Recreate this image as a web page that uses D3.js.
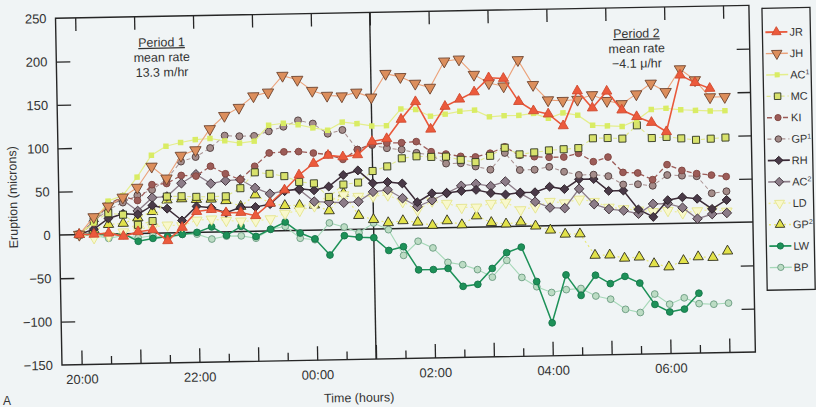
<!DOCTYPE html>
<html>
<head>
<meta charset="utf-8">
<script src="https://cdn.jsdelivr.net/npm/d3@7"></script>
<style>
  body { margin: 0; background: #f0f4f5; }
  svg { display: block; font-family: "Liberation Sans", Arial, sans-serif; }
</style>
</head>
<body>
<svg id="chart"></svg>
<script>
const width = 816,
  height = 407

// sample times, every 15 minutes
const times = ["20:00","20:15","20:30","20:45","21:00","21:15","21:30","21:45","22:00","22:15","22:30","22:45",
  "23:00","23:15","23:30","23:45","00:00","00:15","00:30","00:45","01:00","01:15","01:30","01:45",
  "02:00","02:15","02:30","02:45","03:00","03:15","03:30","03:45","04:00","04:15","04:30","04:45",
  "05:00","05:15","05:30","05:45","06:00","06:15","06:30","06:45","07:00"]

// eruption, microns
const jr  = [0,0,1,-3,2,4,-9,6,24,26, 22,22,18,32,47,64,77,86,84,86, 101,104,126,146,114,140,148,156,172,171, 144,133,129,115,155,135,154,132,124,117, 106,171,162,155,null]
const jh  = [0,20,32,42,53,77,63,89,95,119, 134,143,156,160,179,174,161,155,154,158, 152,179,175,167,162,192,194,176,166,162, 192,163,145,144,145,150,143,139,150,162, 152,178,165,145,145]
const ac1 = [0,13,38,44,65,90,100,104,107,108, 105,102,104,122,124,122,118,115,124,122, 119,119,138,137,129,131,134,135,127,128, 128,130,124,130,127,115,114,113,120,132, 133,131,130,129,129]
const mc  = [0,15,24,22,10,14,42,42,41,41, 41,50,68,66,63,56,54,38,52,54, 67,72,81,83,82,82,78,75,82,91, 83,85,87,88,89,100,100,99,114,99, 100,98,96,97,98]
const ki  = [0,13,34,43,38,56,57,66,65,76, 67,60,75,90,91,91,89,87,81,92, 98,99,99,100,88,85,82,81,85,92, 82,80,79,79,83,73,78,60,59,51, 68,61,57,55,53]
const gp1 = [0,15,28,36,44,50,62,82,87,97, 111,110,110,115,120,127,123,111,115,92, 97,93,91,87,84,74,74,70,66,85, 65,65,68,62,58,58,56,46,46,44, 56,55,54,34,36]
const rh  = [0,6,18,23,22,32,28,14,30,28, 22,28,28,31,46,48,46,50,63,68, 53,54,52,30,40,40,42,43,39,37, 39,39,45,42,53,53,39,39,17,8, 27,30,28,16,26]
const ac2 = [0,15,34,39,26,41,42,57,67,56, 59,60,50,43,46,47,33,32,31,32, 43,45,35,25,32,40,48,50,47,52, 38,28,21,20,42,24,18,16,12,23, 23,18,5,10,11]
const ld  = [0,-4,-2,2,5,7,9,8,14,15, 13,12,12,14,20,23,28,33,40,38, 38,39,31,21,31,28,23,23,27,28, 19,22,28,26,30,27,20,18,16,14, 15,12,14,15,13]
const gp2 = [0,5,11,12,18,25,38,39,38,38, 36,29,42,32,29,29,29,22,42,16, 11,7,9,7,3,8,3,13,5,3, 5,0,-5,-10,-10,-35,-35,-39,-38,-46, -50,-43,-39,-40,-33]
const lw  = [0,0,-1,0,-9,-6,-4,-2,0,6, -4,6,-6,2,10,-3,-10,-29,-7,-9, -10,-25,-21,-48,-48,-47,-68,-66,-48,-30, -24,-64,-112,-57,-81,-58,-68,-60,-68,-93, -102,-99,-81,null,null]
const bp  = [0,-1,-5,-2,-5,-3,-6,-2,-2,-8, -5,-5,-8,2,5,-9,-11,8,3,-4, 7,-1,-31,-15,-23,-40,-43,-49,-58,-39, -59,-70,-77,-74,-73,-82,-86,-98,-102,-81, -93,-86,-93,-94,-93]

const yTicks = [250, 200, 150, 100, 50, 0, -50, -100, -150]
const xLabelHours = [0, 2, 4, 6, 8, 10]
const xLabels = ["20:00", "22:00", "00:00", "02:00", "04:00", "06:00"]

// style of each series (legend order), sup = superscript in legend
const series = [
  { name: "JR", sup: "",  values: jr,  line: "#e9583b", lw: 1.6, dash: null,  sym: "up",      fill: "#ec5a3c", stroke: "#cf4a30", size: 44 },
  { name: "JH", sup: "",  values: jh,  line: "#eba27a", lw: 1.1, dash: null,  sym: "down",    fill: "#dc8e5c", stroke: "#6e4430", size: 56 },
  { name: "AC", sup: "1", values: ac1, line: "#e4ee8c", lw: 1.2, dash: null,  sym: "square",  fill: "#d9ec64", stroke: "none",    size: 30 },
  { name: "MC", sup: "",  values: mc,  line: "#e0e890", lw: 1.1, dash: "4,3", sym: "square",  fill: "#d8e26c", stroke: "#2e3420", size: 50 },
  { name: "KI", sup: "",  values: ki,  line: "#9c5c58", lw: 1.3, dash: "5,3", sym: "circle",  fill: "#9c5c58", stroke: "#80443f", size: 36 },
  { name: "GP", sup: "1", values: gp1, line: "#a89090", lw: 1.0, dash: "4,3", sym: "circle",  fill: "#a48c8a", stroke: "#4e3c3c", size: 38 },
  { name: "RH", sup: "",  values: rh,  line: "#3c2c38", lw: 1.5, dash: null,  sym: "diamond", fill: "#4a3a48", stroke: "#2c2028", size: 40 },
  { name: "AC", sup: "2", values: ac2, line: "#8c7c88", lw: 1.3, dash: null,  sym: "diamond", fill: "#8c7c88", stroke: "#3e3038", size: 46 },
  { name: "LD", sup: "",  values: ld,  line: "#eeee9c", lw: 1.2, dash: "2,3", sym: "down",    fill: "#f8f8cc", stroke: "#e4e48c", size: 50 },
  { name: "GP", sup: "2", values: gp2, line: "#e8e878", lw: 1.2, dash: "2,3", sym: "up",      fill: "#e2e24a", stroke: "#2e2e1e", size: 46 },
  { name: "LW", sup: "",  values: lw,  line: "#1d9158", lw: 1.5, dash: null,  sym: "circle",  fill: "#1d9158", stroke: "#16754a", size: 36 },
  { name: "BP", sup: "",  values: bp,  line: "#a6d8b8", lw: 1.1, dash: null,  sym: "circle",  fill: "#bcdcc4", stroke: "#6a9a80", size: 36 }
]

const hours = times.map(t => {
  const [h, m] = t.split(":").map(Number)
  return ((h - 20 + 24) % 24) + m / 60
})

const svg = d3.select("#chart").attr("width", width).attr("height", height)
svg.append("rect").attr("width", width).attr("height", height).attr("fill", "#f0f4f5")

// the printed page is photographed slightly tilted
const g = svg.append("g").attr("transform", "rotate(-1.07 405 228.5)")

const x = d3.scaleLinear().domain([-0.334, 11.44]).range([59.5, 753])
const y = d3.scaleLinear().domain([-150, 250]).range([358.5, 11.8])
const [x0, x1] = x.range()
const yTop = y(250), yBot = y(-150)

const ink = "#262626"
const fontFam = '"Liberation Sans", Arial, sans-serif'

const styleAxis = sel => {
  sel.select(".domain").remove()
  sel.selectAll(".tick line").attr("stroke", ink).attr("stroke-width", 1.3)
  sel.attr("font-family", fontFam)
}

// ticks
g.append("g").attr("transform", `translate(${x0},0)`)
  .call(d3.axisLeft(y).tickValues([200, 150, 100, 50, -50, -100]).tickSize(-14).tickFormat(""))
  .call(styleAxis)
g.append("g").attr("transform", `translate(${x1},0)`)
  .call(d3.axisRight(y).tickValues([200, 150, 100, 50, -50, -100]).tickSize(-13).tickFormat(""))
  .call(styleAxis)
g.append("g").attr("transform", `translate(0,${yTop})`)
  .call(d3.axisTop(x).tickValues(d3.range(0, 11.01, 1)).tickSize(-13).tickFormat(""))
  .call(styleAxis)
g.append("g").attr("transform", `translate(0,${yBot})`)
  .call(d3.axisBottom(x).tickValues(d3.range(0, 11.01, 1)).tickSize(-14).tickFormat(""))
  .call(styleAxis)
g.append("g").attr("transform", `translate(0,${yBot})`)
  .call(d3.axisBottom(x).tickValues(d3.range(0.5, 11, 1)).tickSize(-8).tickFormat(""))
  .call(styleAxis)

// tick labels
const yLab = g.append("g").attr("transform", `translate(${x0},0)`)
  .call(d3.axisLeft(y).tickValues(yTicks).tickSize(0).tickPadding(9)
    .tickFormat(d => (d < 0 ? "\u2212" + Math.abs(d) : d)))
  .call(styleAxis)
yLab.attr("font-size", 13).selectAll("text").attr("fill", "#333")

const xLab = g.append("g").attr("transform", `translate(0,${yBot})`)
  .call(d3.axisBottom(x).tickValues(xLabelHours).tickSize(0).tickPadding(10)
    .tickFormat((d, i) => xLabels[i]))
  .call(styleAxis)
xLab.attr("font-size", 13).selectAll("text").attr("fill", "#333")

// frame, zero line and period divider
g.append("rect").attr("x", x0).attr("y", yTop).attr("width", x1 - x0).attr("height", yBot - yTop)
  .attr("fill", "none").attr("stroke", ink).attr("stroke-width", 1.4)
g.append("line").attr("x1", x0).attr("x2", x1).attr("y1", y(0)).attr("y2", y(0))
  .attr("stroke", ink).attr("stroke-width", 1.4)
g.append("line").attr("x1", x(5)).attr("x2", x(5)).attr("y1", yTop).attr("y2", yBot)
  .attr("stroke", ink).attr("stroke-width", 1.4)

// axis titles
g.append("text").attr("transform", "translate(17.6,190) rotate(-90)")
  .attr("text-anchor", "middle").attr("font-size", 12.5).attr("fill", "#333")
  .text("Eruption (microns)")
g.append("text").attr("x", 356).attr("y", 401).attr("text-anchor", "middle")
  .attr("font-size", 12.5).attr("fill", "#333").text("Time (hours)")
svg.append("text").attr("x", 3).attr("y", 405).attr("font-size", 12).attr("fill", "#333").text("A")

// period notes
const notes = [
  { x: 165, lines: ["Period 1", "mean rate", "13.3 m/hr"] },
  { x: 640, lines: ["Period 2", "mean rate", "\u22124.1 \u03bc/hr"] }
]
notes.forEach(n => {
  const t = g.append("text").attr("text-anchor", "middle").attr("font-size", 12.5).attr("fill", "#333")
  n.lines.forEach((s, i) => {
    t.append("tspan").attr("x", n.x).attr("y", 42 + i * 15).text(s)
      .attr("text-decoration", i === 0 ? "underline" : null)
  })
})

// markers
const symbolPath = (kind, size) => {
  if (kind === "up" || kind === "down") return d3.symbol(d3.symbolTriangle, size)()
  if (kind === "circle") return d3.symbol(d3.symbolCircle, size)()
  return d3.symbol(d3.symbolSquare, size)()
}
const symbolRot = kind => (kind === "down" ? 180 : kind === "diamond" ? 45 : 0)

const line = d3.line()
  .defined(d => d.v != null)
  .x(d => x(d.h))
  .y(d => y(d.v))

const plot = g.append("g")
series.slice().reverse().forEach(s => {
  const pts = s.values.map((v, i) => ({ h: hours[i], v }))
  plot.append("path")
    .datum(pts)
    .attr("d", line)
    .attr("fill", "none")
    .attr("stroke", s.line)
    .attr("stroke-width", s.lw)
    .attr("stroke-dasharray", s.dash)
  plot.append("g")
    .selectAll("path")
    .data(pts.filter(d => d.v != null))
    .join("path")
    .attr("d", symbolPath(s.sym, s.size))
    .attr("transform", d => `translate(${x(d.h)},${y(d.v)}) rotate(${symbolRot(s.sym)})`)
    .attr("fill", s.fill)
    .attr("stroke", s.stroke)
    .attr("stroke-width", 0.9)
})

// legend
const lg = g.append("g")
lg.append("rect").attr("x", 766).attr("y", 15).attr("width", 48).attr("height", 282)
  .attr("fill", "none").attr("stroke", ink).attr("stroke-width", 1.3)
series.forEach((s, i) => {
  const ly = 39 + i * 21.4
  lg.append("line").attr("x1", 769).attr("x2", 791).attr("y1", ly).attr("y2", ly)
    .attr("stroke", s.line).attr("stroke-width", s.lw + 0.3).attr("stroke-dasharray", s.dash)
  lg.append("path").attr("d", symbolPath(s.sym, s.size * 0.85))
    .attr("transform", `translate(780,${ly}) rotate(${symbolRot(s.sym)})`)
    .attr("fill", s.fill).attr("stroke", s.stroke).attr("stroke-width", 0.9)
  const t = lg.append("text").attr("x", 793).attr("y", ly + 4).attr("font-size", 11).attr("fill", "#333")
    .text(s.name)
  if (s.sup) t.append("tspan").attr("font-size", 7).attr("dy", -4).text(s.sup)
})
</script>
</body>
</html>
